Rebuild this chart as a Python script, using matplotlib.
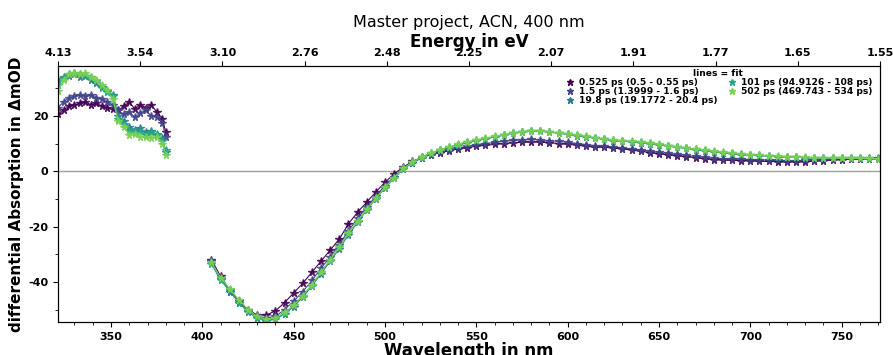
"""
Transient absorption spectra at selected delay times, ACN, 400 nm pump.
Markers are the measured spectra, thin lines the fitted spectra.
"""

import matplotlib
matplotlib.use("Agg")
import matplotlib.pyplot as plt
import numpy as np
from matplotlib.lines import Line2D

OUT_PATH = "out.png"

# wavelength grids (pump scatter region 381-404 nm removed)
WL_UV = [321, 324, 327, 330, 333, 336, 339, 342, 345, 348, 351,
         354, 357, 360, 363, 366, 369, 372, 375, 378, 380]
WL_VIS = list(range(405, 771, 5))

DELAY_LABELS = [
    "0.525 ps (0.5 - 0.55 ps)",
    "1.5 ps (1.3999 - 1.6 ps)",
    "19.8 ps (19.1772 - 20.4 ps)",
    "101 ps (94.9126 - 108 ps)",
    "502 ps (469.743 - 534 ps)",
]

ENERGY_LABELS = ["4.13", "3.54", "3.10", "2.76", "2.48", "2.25",
                 "2.07", "1.91", "1.77", "1.65", "1.55"]

# dAbs in mOD, UV part
uv_0525 = [20.5, 22.0, 23.5, 24.0, 24.5, 25.0, 24.0, 24.5, 23.5, 23.0, 22.5,
           22.0, 23.5, 25.0, 22.5, 24.0, 23.0, 24.0, 21.5, 19.0, 14.0]
uv_1p5 = [23.0, 25.0, 26.5, 27.0, 27.5, 27.0, 27.5, 26.5, 26.0, 25.0, 24.0,
          22.0, 20.5, 21.5, 19.5, 21.0, 22.0, 20.0, 19.5, 17.5, 12.5]
uv_19p8 = [33.0, 34.0, 34.5, 35.0, 34.0, 34.5, 33.0, 32.0, 30.5, 29.0, 27.5,
           20.0, 18.0, 16.0, 15.0, 15.5, 14.0, 14.5, 13.0, 12.0, 7.0]
uv_101 = [31.0, 33.5, 35.0, 35.5, 35.0, 34.5, 34.0, 32.5, 30.0, 28.5, 27.0,
          19.0, 17.0, 15.0, 14.0, 14.5, 13.0, 14.0, 13.5, 11.0, 7.5]
uv_502 = [29.0, 33.0, 35.0, 35.5, 35.0, 35.5, 34.0, 33.0, 31.0, 29.5, 26.0,
          18.0, 16.0, 13.0, 13.5, 12.5, 12.5, 12.0, 12.5, 10.0, 6.0]

# dAbs in mOD, visible part (405-770 nm, 5 nm steps)
vis_0525 = [-32.0, -38.0, -43.0, -47.0, -50.0, -52.0, -52.0, -50.5, -47.5, -44.0,
            -40.5, -36.5, -32.5, -28.5, -24.5, -19.0, -14.8, -11.2, -7.5, -4.0,
            -1.0, 1.5, 3.5, 5.0, 6.0, 6.6, 7.4, 8.0, 8.5, 9.0,
            9.3, 9.7, 10.0, 10.3, 10.4, 10.6, 10.5, 10.3, 10.0, 9.7,
            9.4, 9.0, 8.6, 8.7, 8.3, 8.1, 7.6, 7.2, 6.7, 6.3,
            5.9, 5.6, 5.2, 4.9, 4.5, 4.2, 4.0, 3.9, 3.8, 3.7,
            3.6, 3.5, 3.4, 3.3, 3.3, 3.4, 3.6, 3.8, 4.0, 4.2,
            4.3, 4.4, 4.5, 4.5]
vis_1p5 = [-32.5, -38.5, -43.5, -47.0, -50.5, -52.5, -53.0, -52.5, -50.0, -47.0,
           -43.5, -39.5, -35.0, -31.0, -26.5, -21.5, -17.0, -13.0, -9.0, -5.2,
           -2.0, 1.0, 3.0, 4.8, 6.0, 6.9, 7.7, 8.4, 9.0, 9.6,
           10.0, 10.4, 10.8, 11.1, 11.3, 11.5, 11.3, 11.0, 10.8, 10.4,
           10.0, 9.6, 9.2, 9.0, 8.7, 8.5, 8.0, 7.6, 7.2, 6.8,
           6.4, 6.1, 5.7, 5.4, 5.0, 4.7, 4.5, 4.4, 4.3, 4.2,
           4.1, 4.0, 3.9, 3.8, 3.8, 3.9, 4.0, 4.1, 4.3, 4.4,
           4.5, 4.5, 4.6, 4.6]
vis_19p8 = [-33.0, -39.0, -43.5, -47.5, -51.0, -53.0, -54.0, -53.5, -51.5, -49.0,
            -45.5, -41.5, -37.0, -32.5, -28.0, -23.0, -18.5, -14.0, -10.0, -6.0,
            -2.5, 0.8, 3.0, 4.8, 6.3, 7.5, 8.5, 9.5, 10.3, 11.0,
            11.7, 12.3, 13.0, 13.7, 14.1, 14.4, 14.4, 14.1, 13.7, 13.3,
            12.8, 12.4, 11.9, 11.5, 11.0, 10.8, 10.6, 10.3, 10.0, 9.5,
            9.0, 8.6, 8.2, 7.8, 7.4, 7.0, 6.6, 6.3, 6.0, 5.8,
            5.6, 5.4, 5.2, 5.1, 5.0, 4.9, 4.8, 4.8, 4.7, 4.7,
            4.6, 4.6, 4.5, 4.5]
vis_101 = [-33.5, -39.5, -43.0, -47.5, -50.5, -53.0, -54.0, -53.5, -51.5, -48.5,
           -45.0, -41.0, -36.5, -32.0, -27.5, -22.5, -18.0, -13.5, -9.8, -5.8,
           -2.3, 1.0, 3.2, 5.0, 6.5, 7.6, 8.7, 9.6, 10.4, 11.1,
           11.8, 12.4, 13.1, 13.7, 14.2, 14.5, 14.5, 14.2, 13.8, 13.4,
           12.9, 12.5, 12.0, 11.6, 11.1, 10.9, 10.7, 10.4, 10.1, 9.6,
           9.1, 8.7, 8.3, 7.9, 7.5, 7.1, 6.7, 6.4, 6.1, 5.9,
           5.7, 5.5, 5.3, 5.1, 5.0, 4.9, 4.9, 4.8, 4.8, 4.7,
           4.6, 4.6, 4.5, 4.5]
vis_502 = [-33.0, -38.5, -42.5, -46.5, -50.0, -52.5, -53.5, -53.0, -51.0, -48.5,
           -45.0, -41.0, -36.5, -32.0, -27.5, -22.5, -18.0, -13.8, -9.8, -5.8,
           -2.3, 1.0, 3.3, 5.1, 6.6, 7.8, 8.8, 9.8, 10.6, 11.3,
           12.0, 12.6, 13.2, 13.9, 14.3, 14.7, 14.6, 14.3, 13.9, 13.5,
           13.0, 12.6, 12.1, 11.7, 11.2, 11.0, 10.8, 10.5, 10.1, 9.7,
           9.2, 8.8, 8.4, 8.0, 7.6, 7.2, 6.8, 6.5, 6.2, 6.0,
           5.8, 5.6, 5.4, 5.2, 5.1, 5.0, 4.9, 4.8, 4.8, 4.7,
           4.7, 4.6, 4.6, 4.5]

UV_SPECTRA = [uv_0525, uv_1p5, uv_19p8, uv_101, uv_502]
VIS_SPECTRA = [vis_0525, vis_1p5, vis_19p8, vis_101, vis_502]


def main():
    plt.rcParams["font.family"] = "DejaVu Sans"
    plt.rcParams["axes.unicode_minus"] = False
    colors = plt.cm.viridis(np.linspace(0, 1, 6))[:5]

    fig = plt.figure(figsize=(8.93, 3.55), dpi=100)
    ax = fig.add_axes([0.065, 0.093, 0.9205, 0.721])

    for uv, vis, c in zip(UV_SPECTRA, VIS_SPECTRA, colors):
        for wl, sp in ((WL_UV, uv), (WL_VIS, vis)):
            ax.plot(wl, sp, ls="none", marker="*", ms=5.5, color=c, alpha=0.85)
            ax.plot(wl, sp, lw=0.8, color=c)

    ax.axhline(0, color="#a0a0a0", lw=1, zorder=0)
    ax.set_xlim(321, 771)
    ax.set_ylim(-54.5, 38)

    ax.set_xticks(np.arange(350, 771, 50))
    ax.set_xticks(np.arange(330, 771, 10), minor=True)
    ax.set_yticks([-40, -20, 0, 20])
    ax.set_yticks([-50, -30, -10, 10, 30], minor=True)
    ax.tick_params(labelsize=8)
    for lab in ax.get_xticklabels() + ax.get_yticklabels():
        lab.set_fontweight("bold")

    ax.set_xlabel("Wavelength in nm", fontsize=12, fontweight="bold", labelpad=0)
    ax.set_ylabel("differential Absorption in ΔmOD", fontsize=11,
                  fontweight="bold", labelpad=3)

    # energy axis on top
    ax2 = ax.twiny()
    ax2.set_xlim(0, 10)
    ax2.set_xticks(range(11))
    ax2.set_xticklabels(ENERGY_LABELS, fontsize=8, fontweight="bold")
    ax2.tick_params(axis="x", pad=2)
    ax2.set_xlabel("Energy in eV", fontsize=12, fontweight="bold", labelpad=1)
    ax2.set_title("Master project, ACN, 400 nm", fontsize=11.5, pad=4)

    handles = [Line2D([], [], ls="none", marker="*", ms=5, color=c)
               for c in colors]
    leg = ax.legend(handles, DELAY_LABELS, loc="upper right", ncol=2,
                    title="lines = fit", frameon=False, fontsize=6.6,
                    title_fontsize=6.6, labelspacing=0.0, handletextpad=0.3,
                    handlelength=1.4, columnspacing=0.8, borderaxespad=0.2,
                    bbox_to_anchor=(0.997, 1.01))
    leg.get_title().set_fontweight("bold")
    for t in leg.get_texts():
        t.set_fontweight("bold")

    fig.savefig(OUT_PATH, dpi=100)


if __name__ == "__main__":
    main()
